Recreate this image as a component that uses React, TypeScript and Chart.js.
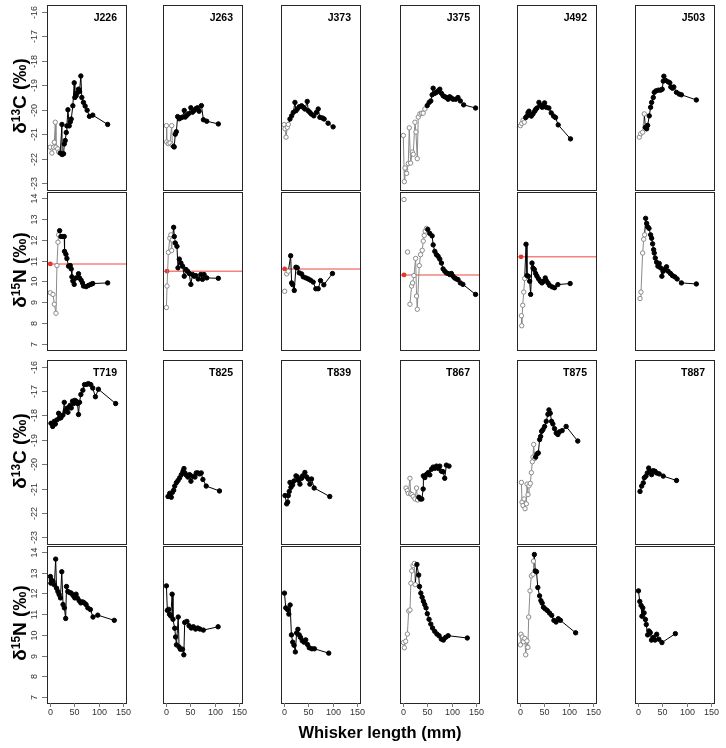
import React, { useEffect, useRef } from "react";
import { Chart, registerables } from "chart.js";

Chart.register(...registerables);

type Pt = [number, number | null];

// ---------------- data ----------------
const J_SPECIMENS = ["J226", "J263", "J373", "J375", "J492", "J503"];
const T_SPECIMENS = ["T719", "T825", "T839", "T867", "T875", "T887"];
const C_TICKS = [-16, -17, -18, -19, -20, -21, -22, -23];
const N_TICKS = [14, 13, 12, 11, 10, 9, 8, 7];
const X_TICKS = [0, 50, 100, 150];

const J226_C: Pt[] = [[0.4,-21.53],[4,-21.77],[7.6,-21.53],[9,-21.33],[11,-20.51],[12.4,-21.53],[15.8,-21.6],[18,-21.73],
  [21.2,-21.77],[24.6,-20.6],[25,-21.83],[28,-21.8],[29.4,-21.4],[31.4,-21.26],[33.5,-20.93],[34.8,-20.66],[36.9,-20.0],[39.6,-20.66],[41.7,-20.5],[43.7,-20.38],[47,-19.84],[49.8,-18.9],[51.1,-19.5],[53.8,-19.43],[56.5,-19.3],[58.6,-19.16],[60.7,-19.25],[63.4,-18.62],[65.4,-19.5],[68.8,-19.7],[72.2,-19.85],[76.3,-20.02],[81,-20.27],[87.8,-20.22],[118.4,-20.6]];
const J226_N: Pt[] = [[0.8,9.46],[6.3,9.38],[9,8.91],[12.4,8.48],[14.4,10.76],[16.5,11.88],[17.8,12.23],
  [19.9,12.43],[22.6,12.15],[26.7,12.15],[29.4,12.15],[30,11.44],[32.8,11.3],[34.8,11.1],[38.2,10.73],[41.7,10.76],[43.7,10.6],[45,10.22],[47,10.02],[49.8,9.86],[53.8,10.17],[58.6,10.37],[60.7,10.17],[64,10.06],[66.8,9.93],[68.8,9.78],[74.2,9.75],[79,9.81],[83.8,9.86],[87.8,9.9],[118.4,9.93]];
const J263_C: Pt[] = [[1,-20.65],[1.6,-21.32],[5,-21.39],[8.4,-21.36],[11.8,-20.65],[13.2,-21.45],
  [15.8,-21.5],[17,-21.52],[19.2,-21.0],[21.4,-20.9],[24,-20.28],[27.4,-20.37],[30.8,-20.33],[34.2,-20.3],[37.6,-20.03],[39.6,-20.3],[43,-20.23],[46.4,-20.16],[51.1,-19.92],[54.5,-20.1],[57.9,-20.03],[61.3,-19.96],[64.7,-19.92],[68,-20.06],[72.8,-19.83],[76.9,-20.41],[83.7,-20.47],[107.5,-20.58]];
const J263_N: Pt[] = [[1,8.75],[2.3,9.78],[5,11.39],[8,12.07],[10,12.23],[11.8,11.48],[13.2,11.99],
  [15.8,12.59],[17.2,12.15],[19.2,11.84],[22.6,11.68],[24.7,10.65],[27.4,11.07],[30.8,10.88],[34.2,10.73],[37.6,10.25],[41,10.57],[44.4,10.49],[47.8,10.38],[51.1,9.86],[54.5,10.33],[57.9,10.25],[61.3,10.28],[66.1,10.12],[71.5,10.33],[74.9,10.1],[78.2,10.33],[83.7,10.17],[107.5,10.15]];
const J373_C: Pt[] = [[0.2,-20.61],[2.2,-20.78],[4.3,-21.12],[7,-20.72],[9,-20.6],
  [12.4,-20.38],[15.8,-20.25],[19.2,-20.11],[22.6,-19.7],[24.7,-20.04],[27.4,-19.97],[31.4,-19.88],[36.2,-19.84],[39.6,-19.9],[43,-19.97],[47.8,-19.66],[49.8,-20.04],[53.2,-20.11],[56.5,-20.18],[61.3,-20.25],[66.7,-20.11],[70.3,-19.97],[73.7,-20.31],[79,-20.34],[82.5,-20.38],[90.6,-20.55],[100.9,-20.7]];
const J373_N: Pt[] = [[1.6,9.53],[3,null],[5.7,10.36],[9,10.49],
  [13.8,11.23],[15.8,9.93],[17.8,9.85],[21.2,9.57],[24.7,10.68],[27.4,10.65],[31.4,10.41],[36.2,10.36],[39.6,10.22],[45,10.17],[49.8,10.12],[54.5,10.06],[60,9.97],[65.4,9.65],[70.3,9.65],[75,10.04],[81.8,9.84],[99.5,10.38]];
const J375_C: Pt[] = [[0.8,-21.05],[2.9,-22.94],[4.2,-22.38],[7.6,-22.6],[11,-22.2],[13,-20.74],[15.8,-22.18],[19.2,-21.73],[21.2,-21.82],[24.6,-20.51],[26.7,-20.91],[29.4,-22.0],[31.4,-20.3],[34.8,-20.17],[38.2,-20.14],[41.5,-20.14],[45,-19.97],
  [49.8,-19.83],[53.8,-19.7],[57.2,-19.64],[59.9,-19.39],[62,-19.12],[65.4,-19.33],[68.8,-19.29],[72.2,-19.23],[75.6,-19.16],[79,-19.33],[82.4,-19.43],[85.8,-19.47],[89.2,-19.5],[92.6,-19.57],[96,-19.47],[99.4,-19.52],[102.7,-19.57],[108.2,-19.57],[112.9,-19.5],[117.7,-19.64],[124.5,-19.8],[149,-19.93]];
const J375_N: Pt[] = [[2.2,13.92],[5,null],[9.6,11.41],[12,null],[14.4,8.91],[17.8,9.78],[19.8,9.93],[22.6,10.28],[26,11.1],[28,9.3],[29.4,8.67],[33.5,10.76],[36.2,11.28],[39.6,11.49],[41.7,11.93],[43.7,12.2],[45.7,12.41],[48.4,12.54],
  [51,12.49],[55,12.3],[59.9,12.18],[62,11.75],[65.4,11.44],[68.8,11.28],[72.2,11.2],[75.6,11.07],[79,10.88],[82.4,10.6],[85.8,10.49],[89.2,10.41],[92.6,10.38],[96,10.33],[99.4,10.38],[102.7,10.25],[106,10.17],[109.5,10.12],[112.9,10.09],[117.7,9.93],[123,9.86],[149,9.38]];
const J492_C: Pt[] = [[1,-20.65],[3.7,-20.56],[6.4,-20.43],[9,-20.51],
  [11.8,-20.32],[14.5,-20.26],[16.6,-20.12],[18.6,-20.06],[21.4,-20.19],[23.4,-20.26],[26.8,-20.17],[30.2,-20.06],[32.2,-19.99],[35,-19.93],[39,-19.7],[41.8,-19.82],[45.8,-19.9],[48.6,-19.86],[50.6,-19.72],[54,-19.9],[59.4,-19.93],[64.2,-20.13],[69,-20.26],[73,-20.32],[78.5,-20.62],[103.7,-21.19]];
const J492_N: Pt[] = [[3,8.36],[3.7,7.88],[5.7,8.86],[7.8,9.49],[9.8,10.14],
  [12.5,11.78],[14.5,10.28],[17.3,10.25],[20,10.01],[22,9.38],[24.8,10.88],[26.8,10.64],[29.6,10.57],[32.2,10.38],[35,10.25],[38.4,10.12],[41.8,10.01],[45.2,9.93],[48.6,10.01],[52,10.17],[54,10.04],[57.5,9.93],[60.8,9.81],[66.2,9.74],[71,9.7],[77.8,9.85],[103,9.9]];
const J503_C: Pt[] = [[2.9,-21.12],[5.6,-20.98],[9.7,-20.92],[13.1,-20.17],
  [15.2,-20.72],[17.9,-20.78],[19.9,-20.64],[23.3,-20.25],[26,-19.9],[28.1,-19.7],[31.5,-19.5],[33.5,-19.29],[36.9,-19.23],[41.7,-19.2],[46.4,-19.2],[49.8,-19.16],[51.9,-18.83],[53.2,-18.63],[56.6,-18.8],[62,-18.86],[65.4,-18.9],[67.4,-19.07],[70.8,-19.12],[73.6,-19.07],[79,-19.29],[84.5,-19.36],[89.2,-19.39],[119.8,-19.6]];
const J503_N: Pt[] = [[4.3,9.18],[6.3,9.49],[9.7,11.36],[11.8,12.02],[13.8,12.23],
  [15.8,13.02],[17.9,12.78],[19.9,12.62],[22.7,12.54],[26,12.23],[28.1,12.07],[30.1,11.8],[32.2,11.52],[33.5,11.36],[35.6,11.12],[38.3,10.92],[41,10.73],[43.7,10.86],[46.4,10.65],[49.1,10.25],[51.9,10.49],[55.2,10.6],[58.7,10.7],[62,10.49],[66.8,10.38],[70.8,10.28],[75.6,10.22],[80.4,10.12],[89.2,9.93],[119.8,9.88]];

const T719_C: Pt[] = [[2.2,-18.32],[5.6,-18.45],[9,-18.24],[11,-18.35],[14.4,-18.18],[17.8,-17.91],[19.9,-18.11],[22.6,-18.09],[26.7,-17.98],[29.4,-17.46],[31.4,-17.82],[34.8,-17.71],[36.9,-17.87],[38.9,-17.65],[41.7,-17.58],[43.7,-17.69],[46.4,-17.41],[48.4,-17.51],[51.1,-17.38],[53.8,-17.41],[56.5,-17.51],[58.6,-17.96],[60.7,-17.46],[63.4,-17.14],[67.5,-16.96],[70.9,-16.73],[75.6,-16.72],[79,-16.69],[83.8,-16.73],[87.8,-16.87],[93.3,-17.23],[99.4,-16.92],[134.8,-17.51]];
const T719_N: Pt[] = [[1,12.81],[2,12.49],[2.9,12.65],[6.5,12.57],[9.1,12.41],[11.8,13.65],[13.6,12.25],[16.3,12.09],[18.9,11.94],[21.6,11.78],[24.3,13.04],[26.9,11.46],[29.6,11.3],[32.3,10.79],[34,12.33],[36.7,12.09],[40.3,12.04],[43.8,12.01],[47.4,11.9],[51,11.78],[53.6,11.96],[56.3,11.78],[59.9,11.65],[63.4,11.54],[67,11.59],[70.5,11.54],[74.1,11.46],[77.7,11.3],[83,11.22],[88.3,10.86],[98.1,10.95],[132,10.7]];
const T825_C: Pt[] = [[4.3,-21.33],[7.7,-21.2],[11,-21.36],[13.2,-21.16],[15.9,-21.07],[18,-20.9],[21.4,-20.76],[24.8,-20.67],[28.2,-20.56],[31.6,-20.43],[35,-20.29],[37,-20.18],[39,-20.36],[41.8,-20.45],[45.2,-20.53],[48.6,-20.43],[51.3,-20.7],[55.4,-20.5],[59.5,-20.53],[62.2,-20.36],[65.6,-20.36],[69,-20.4],[72.4,-20.36],[75.8,-20.63],[82.6,-20.9],[109.8,-21.1]];
const T825_N: Pt[] = [[1,12.36],[2.9,11.18],[5.6,11.23],[7.4,10.99],[10,10.91],[12.7,11.96],[14.5,10.75],[18,10.32],[19.8,9.9],[21.6,9.52],[25.2,10.86],[27,9.42],[29.6,9.31],[34,9.31],[36.7,9.04],[38.5,10.6],[43,10.65],[47.4,10.44],[51.9,10.33],[56.3,10.39],[60.8,10.28],[65.2,10.33],[69.7,10.28],[76.8,10.23],[107,10.39]];
const T839_C: Pt[] = [[2.2,-21.29],[5.6,-21.63],[7.7,-21.56],[9,-21.29],[11,-21.12],[12.4,-20.75],[14.4,-20.95],[15.8,-20.79],[17.8,-20.85],[20.6,-20.69],[24.7,-20.48],[27.4,-20.52],[29.5,-20.66],[32.9,-20.82],[36.3,-20.58],[38.3,-20.48],[43,-20.34],[46.4,-20.52],[49.8,-20.61],[53.2,-20.82],[56.6,-20.61],[62,-20.98],[94,-21.33]];
const T839_N: Pt[] = [[1.1,12.01],[3.8,11.3],[7.4,11.22],[10,11.0],[12.7,11.44],[15.4,10.0],[18,9.65],[20.7,9.5],[23.4,9.18],[26,10.09],[28.7,10.27],[31.4,10.0],[34,9.88],[37.6,9.72],[41.2,9.65],[44.7,9.76],[48.3,9.54],[51.9,9.38],[57.2,9.33],[62.5,9.33],[91.9,9.12]];
const T867_C: Pt[] = [[6.3,-20.98],[9,-21.09],[11,-21.2],[14.4,-20.58],[15.8,-21.22],[18.5,-21.25],[21.2,-21.33],[24.6,-21.43],[28,-20.98],[30,-21.47],
  [32.7,-21.36],[36,-21.43],[38.8,-21.43],[41.5,-21.02],[41.9,-20.48],[44.9,-20.55],[48.3,-20.42],[51.7,-20.35],[55.1,-20.44],[58.5,-20.21],[61.9,-20.12],[65.3,-20.17],[68.7,-20.08],[72.1,-20.17],[75.5,-20.08],[78.9,-20.29],[82.3,-20.31],[85.7,-20.58],[89.1,-20.04],[94.5,-20.08]];
const T867_N: Pt[] = [[1,9.63],[2.9,9.38],[5.6,9.69],[9.1,10.04],[11.8,11.15],[14.5,11.2],[16.3,12.49],[18,13.08],[20.7,13.33],[23.4,13.44],[25.2,12.42],
  [28.7,13.39],[32.3,12.88],[34,12.33],[36.7,12.01],[39.4,11.81],[42,11.62],[44.7,11.46],[47.4,11.3],[50,11.02],[53.6,10.75],[57.2,10.52],[60.8,10.33],[65.2,10.17],[69.7,10.04],[74.1,9.96],[78.6,9.8],[83,9.75],[87.5,9.88],[92.8,9.96],[132,9.85]];
const T875_C: Pt[] = [[3,-20.75],[4.3,-21.56],[6.4,-21.7],[8.4,-21.43],[10.5,-21.83],[13.2,-21.63],[14.6,-20.82],[16.6,-21.25],[18.6,-20.89],[21.4,-20.79],[23.4,-20.35],[25.5,-19.9],[26.8,-19.71],[28.2,-19.19],[30.2,-19.77],
  [32.2,-19.71],[35,-19.58],[37.7,-19.54],[40.4,-18.99],[42.5,-18.86],[44.5,-18.65],[47.2,-18.58],[50.6,-18.45],[54,-18.24],[57.4,-17.95],[59.5,-17.77],[62.2,-17.91],[64.9,-18.24],[67.6,-18.35],[71,-18.54],[74.4,-18.72],[77.8,-18.78],[81.2,-18.67],[86.6,-18.62],[94.8,-18.45],[118.6,-19.05]];
const T875_N: Pt[] = [[1,9.52],[2,10.03],[4.7,9.9],[7.3,9.67],[10,9.83],[11.8,9.04],[14.5,9.71],[16.3,9.4],[18,10.86],[20.7,12.12],[23.4,12.84],[26.9,12.92],[27.8,13.55],
  [29.6,13.87],[31.4,13.08],[34,13.04],[36.7,12.28],[40.3,11.88],[43,11.65],[45.6,11.53],[48.3,11.33],[51.9,11.25],[56.3,11.17],[60.8,11.05],[65.2,10.94],[69.7,10.7],[74.1,10.62],[78.6,10.78],[83,10.7],[114.2,10.1]];
const T887_C: Pt[] = [[4.3,-21.12],[7.7,-20.9],[11,-20.77],[13.1,-20.56],[16.5,-20.49],[19.3,-20.36],[22,-20.16],[24.7,-20.27],[28.1,-20.43],[31.5,-20.27],[34.9,-20.29],[38.3,-20.36],[43.7,-20.4],[51.9,-20.49],[79.1,-20.67]];
const T887_N: Pt[] = [[1.1,12.12],[3.8,11.61],[6.5,11.42],[8.2,10.9],[10,11.3],[12.7,11.06],[15.4,10.74],[17.1,10.5],[19.9,10.0],[22.6,10.19],[25.3,10.11],[27.8,9.75],[31.4,9.88],[35,9.75],[38.5,10.03],[43,9.79],[49.2,9.63],[76.8,10.06]];

// number of leading (grey, open-circle) entries per panel
const J_C_OPEN = [8, 6, 5, 17, 4, 4];
const J_N_OPEN = [7, 7, 4, 18, 5, 5];
const T_C_OPEN = [0, 0, 0, 10, 15, 0];
const T_N_OPEN = [0, 0, 0, 11, 13, 0];

// reference lines (red) in the J δ15N panels
const J_REF_N: (number | null)[] = [10.84, 10.49, 10.6, 10.31, 11.18, null];
const J_REF_DOT_X: (number | null)[] = [0.8, 2.3, 1.6, 2.2, 2.3, null];

const J_C_DATA = [J226_C, J263_C, J373_C, J375_C, J492_C, J503_C];
const J_N_DATA = [J226_N, J263_N, J373_N, J375_N, J492_N, J503_N];
const T_C_DATA = [T719_C, T825_C, T839_C, T867_C, T875_C, T887_C];
const T_N_DATA = [T719_N, T825_N, T839_N, T867_N, T875_N, T887_N];

// ---------------- layout ----------------
const COL_LEFT = [47, 163, 281, 400, 517, 635];
const PANEL_W = 79;
const ROW_TOP = [3, 190, 358, 544];
const ROW_H = [187, 160, 186, 159];
const PADL = 47, PADT = 3, PADR = 8, PADB = 24;
const C_RANGE: [number, number] = [-23.28, -15.72];
const N_RANGE: [number, number] = [6.72, 14.28];
const X_RANGE: [number, number] = [-6, 156];

const BLACK = "#000000";
const GREY = "#8a8a8a";
const RED_LINE = "#f4837b";
const RED_DOT = "#e8352c";
const FONT = '"Liberation Sans", Arial, Helvetica, sans-serif';

interface PanelProps {
  row: number;
  col: number;
  pts: Pt[];
  open: number;
  label?: string;
  refY?: number | null;
  refX?: number | null;
}

function Panel({ row, col, pts, open, label, refY, refX }: PanelProps) {
  const ref = useRef<HTMLCanvasElement>(null);
  const isC = row % 2 === 0;
  const yr = isC ? C_RANGE : N_RANGE;
  const yTicks = isC ? C_TICKS : N_TICKS;
  const W = PANEL_W + PADL + PADR;
  const H = ROW_H[row] + PADT + PADB;

  useEffect(() => {
    const canvas = ref.current;
    if (!canvas) return;
    const pointFill = pts.map((_, i) => (i < open ? "#ffffff" : BLACK));
    const pointBorder = pts.map((_, i) => (i < open ? GREY : BLACK));
    const datasets: any[] = [
      {
        data: pts.map(([x, y]) => ({ x, y })),
        showLine: true,
        borderWidth: 1,
        borderColor: BLACK,
        segment: {
          borderColor: (ctx: any) => (ctx.p1DataIndex < open ? GREY : BLACK),
        },
        pointRadius: 2.2,
        pointBorderWidth: 1,
        pointBackgroundColor: pointFill,
        pointBorderColor: pointBorder,
        spanGaps: false,
        order: 0,
      },
    ];
    if (refY != null) {
      datasets.push({
        data: [{ x: refX ?? 0, y: refY }],
        showLine: false,
        pointRadius: 2.4,
        pointBorderWidth: 0,
        pointBackgroundColor: RED_DOT,
        pointBorderColor: RED_DOT,
        order: 1,
      });
      datasets.push({
        data: [{ x: X_RANGE[0], y: refY }, { x: X_RANGE[1], y: refY }],
        showLine: true,
        borderColor: RED_LINE,
        borderWidth: 1.5,
        pointRadius: 0,
        order: 2,
      });
    }
    const deco = {
      id: "deco",
      afterDatasetsDraw(chart: any) {
        const { ctx, chartArea: a, scales } = chart;
        ctx.save();
        ctx.strokeStyle = "#262626";
        ctx.lineWidth = 1;
        ctx.strokeRect(a.left + 0.5, a.top + 0.5, a.right - a.left, a.bottom - a.top);
        ctx.fillStyle = "#333";
        ctx.font = `9px ${FONT}`;
        if (col === 0) {
          ctx.strokeStyle = "#777";
          for (const t of yTicks) {
            const py = Math.round(scales.y.getPixelForValue(t)) + 0.5;
            ctx.beginPath();
            ctx.moveTo(a.left - 5, py);
            ctx.lineTo(a.left, py);
            ctx.stroke();
            ctx.save();
            ctx.translate(a.left - 12, py);
            ctx.rotate(-Math.PI / 2);
            ctx.textAlign = "center";
            ctx.textBaseline = "middle";
            ctx.fillText(String(t), 0, 0);
            ctx.restore();
          }
        }
        if (row === 3) {
          ctx.strokeStyle = "#777";
          for (const t of X_TICKS) {
            const px = Math.round(scales.x.getPixelForValue(t)) + 0.5;
            ctx.beginPath();
            ctx.moveTo(px, a.bottom);
            ctx.lineTo(px, a.bottom + 4);
            ctx.stroke();
            ctx.textAlign = "center";
            ctx.textBaseline = "middle";
            ctx.fillText(String(t), px, a.bottom + 10);
          }
        }
        if (label) {
          ctx.fillStyle = "#000";
          ctx.font = `bold 10.5px ${FONT}`;
          ctx.textAlign = "right";
          ctx.textBaseline = "alphabetic";
          ctx.fillText(label, a.right - 9, a.top + 16);
        }
        ctx.restore();
      },
    };
    const chart = new Chart(canvas, {
      type: "scatter",
      data: { datasets },
      options: {
        animation: false,
        responsive: false,
        maintainAspectRatio: false,
        devicePixelRatio: 1,
        events: [],
        layout: { padding: { left: PADL, top: PADT, right: PADR, bottom: PADB } },
        plugins: { legend: { display: false }, tooltip: { enabled: false } },
        scales: {
          x: { type: "linear", min: X_RANGE[0], max: X_RANGE[1], display: false },
          y: { type: "linear", min: yr[0], max: yr[1], display: false },
        },
      },
      plugins: [deco],
    } as any);
    return () => chart.destroy();
  }, []);

  return (
    <canvas
      ref={ref}
      width={W}
      height={H}
      style={{
        position: "absolute",
        left: COL_LEFT[col] - PADL,
        top: ROW_TOP[row] - PADT,
        width: W,
        height: H,
      }}
    />
  );
}

function YTitle({ cy, iso, el }: { cy: number; iso: string; el: string }) {
  return (
    <div
      style={{
        position: "absolute",
        left: 20,
        top: cy,
        transform: "translate(-50%, -50%) rotate(-90deg)",
        font: `bold 19px ${FONT}`,
        whiteSpace: "nowrap",
        lineHeight: "20px",
        color: "#000",
      }}
    >
      δ<sup style={{ fontSize: 12, lineHeight: 0, verticalAlign: "0.5em" }}>{iso}</sup>
      {el} (‰)
    </div>
  );
}

export default function App() {
  const panels: JSX.Element[] = [];
  for (let c = 0; c < 6; c++) {
    panels.push(<Panel key={`jc${c}`} row={0} col={c} pts={J_C_DATA[c]} open={J_C_OPEN[c]} label={J_SPECIMENS[c]} />);
    panels.push(
      <Panel key={`jn${c}`} row={1} col={c} pts={J_N_DATA[c]} open={J_N_OPEN[c]} refY={J_REF_N[c]} refX={J_REF_DOT_X[c]} />
    );
    panels.push(<Panel key={`tc${c}`} row={2} col={c} pts={T_C_DATA[c]} open={T_C_OPEN[c]} label={T_SPECIMENS[c]} />);
    panels.push(<Panel key={`tn${c}`} row={3} col={c} pts={T_N_DATA[c]} open={T_N_OPEN[c]} />);
  }
  return (
    <div
      style={{
        position: "absolute",
        left: 0,
        top: 0,
        width: 726,
        height: 748,
        background: "#fff",
        overflow: "hidden",
      }}
    >
      {panels}
      <YTitle cy={96} iso="13" el="C" />
      <YTitle cy={270} iso="15" el="N" />
      <YTitle cy={451} iso="13" el="C" />
      <YTitle cy={623} iso="15" el="N" />
      <div
        style={{
          position: "absolute",
          left: 380,
          top: 732,
          transform: "translate(-50%, -50%)",
          font: `bold 16.5px ${FONT}`,
          whiteSpace: "nowrap",
          color: "#000",
        }}
      >
        Whisker length (mm)
      </div>
    </div>
  );
}
